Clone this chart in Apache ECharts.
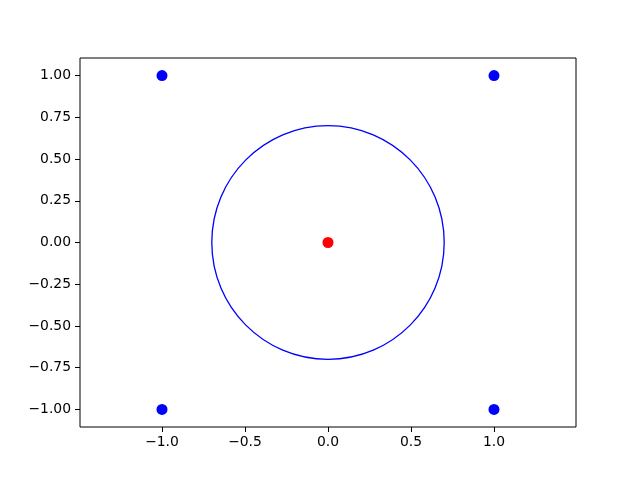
<!DOCTYPE html>
<html>
<head>
<meta charset="utf-8">
<script src="https://cdn.jsdelivr.net/npm/echarts@6/dist/echarts.min.js"></script>
<style>html,body{margin:0;padding:0;background:#fff}#c{width:640px;height:480px}</style>
</head>
<body>
<div id="c"></div>
<script>
// Data
const cornerPoints = [[-1, 1], [1, 1], [-1, -1], [1, -1]];
const centerPoint = [[0, 0]];
const circleCenter = [0, 0];
const circleRadius = 0.7;
const xTicks = [-1.0, -0.5, 0.0, 0.5, 1.0];
const yTicks = [-1.0, -0.75, -0.5, -0.25, 0.0, 0.25, 0.5, 0.75, 1.0];
const xLimits = [-1.494, 1.494];
const yLimits = [-1.105, 1.105];

const fmt = (d) => (v) => (v < 0 ? '\u2212' : '') + Math.abs(v).toFixed(d);
const font = { fontFamily: 'DejaVu Sans', fontSize: 13.9, color: '#000' };

const chart = echarts.init(document.getElementById('c'), null, { renderer: 'canvas' });
chart.setOption({
  animation: false,
  backgroundColor: '#fff',
  grid: {
    left: 80, right: 64, top: 58, bottom: 53,
    show: true, borderColor: '#000', borderWidth: 1, backgroundColor: 'transparent'
  },
  xAxis: {
    type: 'value', min: xLimits[0], max: xLimits[1],
    splitLine: { show: false },
    axisLine: { show: false, onZero: false },
    axisTick: { show: true, inside: false, length: 5, lineStyle: { color: '#000', width: 1 }, customValues: xTicks },
    axisLabel: Object.assign({ margin: 8, formatter: fmt(1), customValues: xTicks }, font)
  },
  yAxis: {
    type: 'value', min: yLimits[0], max: yLimits[1],
    splitLine: { show: false },
    axisLine: { show: false, onZero: false },
    axisTick: { show: true, inside: false, length: 5, lineStyle: { color: '#000', width: 1 }, customValues: yTicks },
    axisLabel: Object.assign({ margin: 9, formatter: fmt(2), customValues: yTicks, padding: [3, 0, 0, 0] }, font)
  },
  series: [
    {
      type: 'custom',
      data: [[circleCenter[0], circleCenter[1], circleRadius]],
      renderItem: function (params, api) {
        const c = api.coord([api.value(0), api.value(1)]);
        const r = api.size([api.value(2), api.value(2)]);
        return {
          type: 'ellipse',
          shape: { cx: c[0], cy: c[1], rx: r[0], ry: r[1] },
          style: { fill: 'none', stroke: '#0000ff', lineWidth: 1.3 }
        };
      },
      z: 1
    },
    {
      type: 'scatter', data: cornerPoints, symbol: 'circle', symbolSize: 11,
      itemStyle: { color: '#0000ff', opacity: 1 }, z: 2
    },
    {
      type: 'scatter', data: centerPoint, symbol: 'circle', symbolSize: 11,
      itemStyle: { color: '#ff0000', opacity: 1 }, z: 3
    }
  ]
});
</script>
</body>
</html>
